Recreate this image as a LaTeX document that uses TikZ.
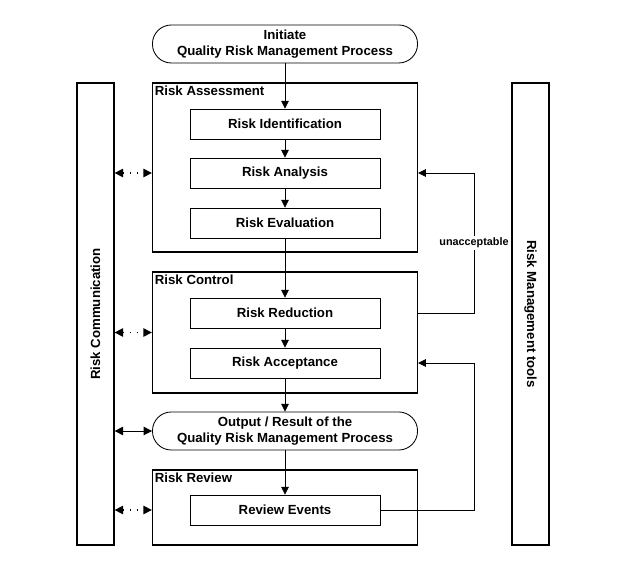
\documentclass[tikz,border=0pt]{standalone}
\usepackage{fontspec}
\setmainfont{Liberation Sans}
\usetikzlibrary{arrows.meta,positioning}

\tikzset{
    stepbox/.style={draw, line width=0.6pt, minimum width=4.75cm, minimum height=0.75cm, inner sep=0pt},
    groupbox/.style={draw, line width=0.9pt, minimum width=6.625cm, inner sep=0pt},
    termbox/.style={draw, line width=0.6pt, rounded corners=0.47cm, minimum width=6.625cm, minimum height=0.95cm, inner sep=0pt, align=center},
    sidebar/.style={draw, line width=0.9pt, minimum width=0.925cm, minimum height=11.55cm, inner sep=0pt},
    arr/.style={-{Triangle[length=5.5pt,width=5.5pt]}, line width=0.5pt},
    dotarr/.style={{Triangle[length=6pt,width=6pt]}-{Triangle[length=6pt,width=6pt]}, line width=0.9pt, dash pattern=on 1pt off 4pt},
    biarr/.style={{Triangle[length=6pt,width=6pt]}-{Triangle[length=6pt,width=6pt]}, line width=0.7pt}
}

\begin{document}
\begin{tikzpicture}[x=0.025cm, y=-0.025cm, font=\bfseries\fontsize{9.4}{11.5}\selectfont]

        \useasboundingbox (0,0) rectangle (625,569);

        % Side bars
        \node[sidebar] (comm) at (95.5,314) {};
        \node[rotate=90] at (comm) {Risk Communication};
        \node[sidebar] (tools) at (530.5,314) {};
        \node[rotate=-90] at (tools) {Risk Management tools};

        % Start / end
        \node[termbox] (init) at (285,44) {Initiate\\Quality Risk Management Process};
        \node[termbox] (output) at (285,431) {Output / Result of the\\Quality Risk Management Process};

        % Groups
        \node[groupbox, minimum height=4.225cm] (assess) at (285,167.5) {};
        \node[anchor=north west, inner sep=2pt] at (assess.north west) {Risk Assessment};
        \node[groupbox, minimum height=3.025cm] (control) at (285,332.5) {};
        \node[anchor=north west, inner sep=2pt] at (control.north west) {Risk Control};
        \node[groupbox, minimum height=1.875cm] (review) at (285,507.5) {};
        \node[anchor=north west, inner sep=2pt] at (review.north west) {Risk Review};

        % Steps
        \node[stepbox] (ident) at (285,124) {Risk Identification};
        \node[stepbox] (analysis) at (285,173) {Risk Analysis};
        \node[stepbox] (eval) at (285,223) {Risk Evaluation};
        \node[stepbox] (reduction) at (285,313) {Risk Reduction};
        \node[stepbox] (accept) at (285,363) {Risk Acceptance};
        \node[stepbox] (events) at (285,510) {Review Events};

        % Main flow
        \draw[arr] (init) -- (ident);
        \draw[arr] (ident) -- (analysis);
        \draw[arr] (analysis) -- (eval);
        \draw[arr] (eval) -- (reduction);
        \draw[arr] (reduction) -- (accept);
        \draw[arr] (accept) -- (output);
        \draw[arr] (output) -- (events);

        % Feedback loops
        \coordinate (loop) at (474,300);
        \draw[arr] (reduction -| control.east) -- (loop |- reduction) -- (loop |- analysis)
            node[pos=0.5, fill=white, inner sep=1.5pt, font=\bfseries\fontsize{7.7}{9}\selectfont] {unacceptable}
            -- (analysis -| assess.east);
        \draw[arr] (events) -- (loop |- events) -- (loop |- accept) -- (accept -| control.east);

        % Communication
        \draw[dotarr] (comm.east |- analysis) -- (assess.west |- analysis);
        \draw[dotarr] (comm.east |- control) -- (control.west);
        \draw[biarr] (comm.east |- output) -- (output.west);
        \draw[dotarr] (comm.east |- events) -- (review.west |- events);

\end{tikzpicture}
\end{document}
